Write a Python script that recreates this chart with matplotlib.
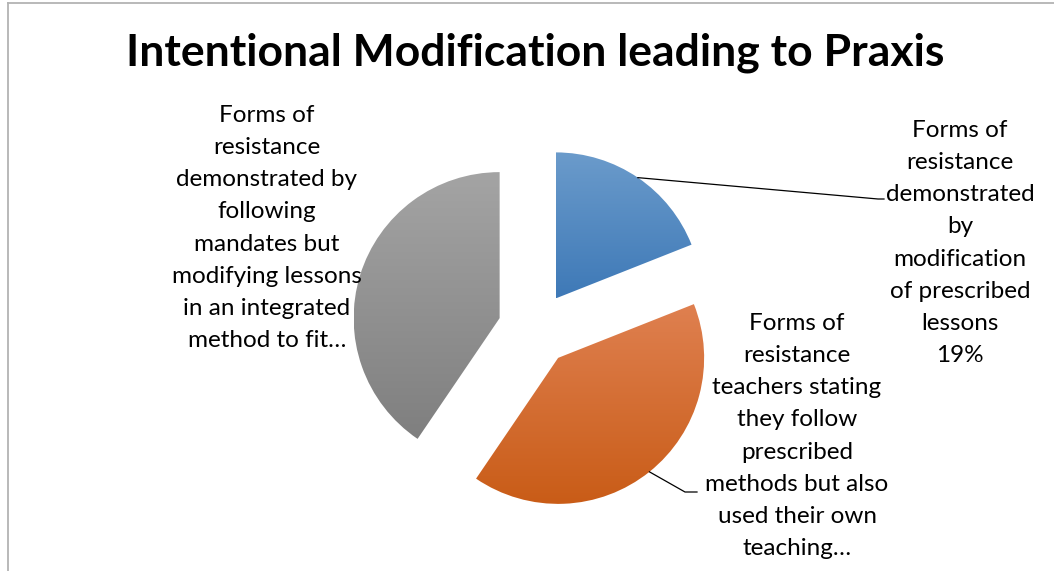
import matplotlib
matplotlib.use("Agg")
import matplotlib.pyplot as plt
import numpy as np
from matplotlib.colors import LinearSegmentedColormap
from matplotlib.lines import Line2D

# slice data (clockwise from 12 o'clock)
categories = [
    "Forms of resistance demonstrated by modification of prescribed lessons",
    "Forms of resistance teachers stating they follow prescribed methods but also used their own teaching...",
    "Forms of resistance demonstrated by following mandates but modifying lessons in an integrated method to fit...",
]
values = [19, 40.5, 40.5]
label_lines = [
    ["Forms of", "resistance", "demonstrated", "by", "modification", "of prescribed", "lessons"],
    ["Forms of", "resistance", "teachers stating", "they follow", "prescribed", "methods but also",
     "used their own", "teaching\u2026"],
    ["Forms of", "resistance", "demonstrated by", "following", "mandates but", "modifying lessons",
     "in an integrated", "method to fit\u2026"],
]
show_pct = [True, False, False]
grad_top = ["#6b9bcb", "#df8050", "#a4a4a4"]
grad_bottom = ["#3e79b7", "#c95c17", "#7f7f7f"]

title = "Intentional Modification leading to Praxis"

W, H = 1054, 571
fig = plt.figure(figsize=(W / 100, H / 100), dpi=100)
ax = fig.add_axes([0, 0, 1, 1])

# pixel-like data space, y up
cx, cy, r = 535, H - 329, 146
wedges, _ = ax.pie(values, startangle=90, counterclock=False, radius=r,
                   center=(cx, cy), explode=[37] * 3,
                   wedgeprops=dict(linewidth=0, edgecolor="none"))

for w, c0, c1 in zip(wedges, grad_top, grad_bottom):
    ext = w.get_path().get_extents()
    cmap = LinearSegmentedColormap.from_list("g", [c0, c1])
    grad = np.linspace(0, 1, 256).reshape(-1, 1)
    im = ax.imshow(grad, cmap=cmap, extent=(ext.x0, ext.x1, ext.y0, ext.y1),
                   origin="upper", aspect="auto", interpolation="bicubic", zorder=1)
    im.set_clip_path(w)
    w.set_facecolor("none")

ax.set_xlim(0, W)
ax.set_ylim(0, H)
ax.set_aspect("equal")
ax.axis("off")

font = "Lato"
ax.text(535, H - 53, title, ha="center", va="center", fontsize=32,
        fontweight="bold", family=font)

# label anchor positions (centre of text block)
label_pos = [(960, H - 243), (797, H - 436), (267, H - 228)]
total = sum(values)
for i, (lines, (lx, ly)) in enumerate(zip(label_lines, label_pos)):
    txt = list(lines)
    if show_pct[i]:
        txt.append(f"{values[i] / total * 100:.0f}%")
    ax.text(lx, ly, "\n".join(txt), ha="center", va="center", fontsize=17.5,
            family=font, linespacing=1.66, color="#000000")

# leader lines from wedge arc midpoints
leader_ends = {0: [(878, H - 199), (884, H - 199)], 1: [(685, H - 492), (697, H - 492)]}
for i, pts in leader_ends.items():
    w = wedges[i]
    mid = np.deg2rad((w.theta1 + w.theta2) / 2)
    sx = w.center[0] + w.r * np.cos(mid)
    sy = w.center[1] + w.r * np.sin(mid)
    xs = [sx] + [p[0] for p in pts]
    ys = [sy] + [p[1] for p in pts]
    ax.plot(xs, ys, color="black", lw=0.9, zorder=3)

# chart border (left and top visible)
fig.add_artist(Line2D([7.5 / W, 7.5 / W], [0, (H - 2.5) / H], color="#b3b3b3", lw=1.3))
fig.add_artist(Line2D([7.5 / W, 1], [(H - 2.5) / H, (H - 2.5) / H], color="#b3b3b3", lw=1.3))

fig.savefig("out.png", dpi=100)
